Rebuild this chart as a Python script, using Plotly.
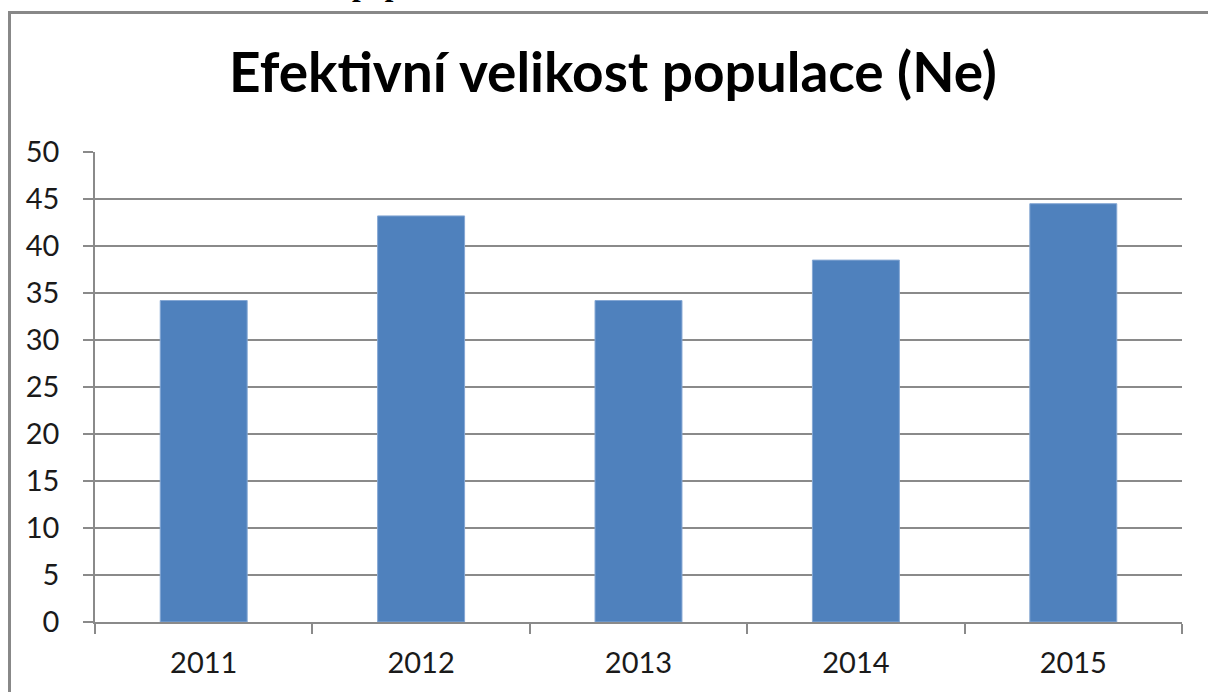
import plotly.graph_objects as go

# --- data ---
years = ['2011', '2012', '2013', '2014', '2015']
ne_values = [34.2, 43.2, 34.2, 38.5, 44.5]
y_ticks = [0, 5, 10, 15, 20, 25, 30, 35, 40, 45, 50]

BAR_COLOR = '#4F81BD'
GRID_COLOR = '#8a8a8a'
TEXT_COLOR = '#1a1a1a'

# plot area in pixels
W, H = 1208, 692
L, R, T, B = 95, 26, 152, 70
pw, ph = W - L - R, H - T - B


def px_x(x):
    return (x - L) / pw


def px_y(y):
    return (H - B - y) / ph


fig = go.Figure()
fig.add_trace(go.Bar(
    x=years, y=ne_values,
    marker=dict(color=BAR_COLOR, line=dict(color='#86a8d4', width=1)),
    showlegend=False,
))

fig.update_layout(
    width=W, height=H,
    margin=dict(l=L, r=R, t=T, b=B, pad=0),
    paper_bgcolor='white', plot_bgcolor='white',
    bargap=0.6,
    font=dict(family='Lato', color=TEXT_COLOR, size=29),
    title=dict(text='Efektivní velikost populace (Ne)',
               font=dict(family='Lato', size=55, weight='bold', color='black'),
               x=613 / W, xanchor='center', xref='container',
               y=1 - 73 / H, yanchor='middle', yref='container'),
)

fig.update_xaxes(
    type='category', tickson='boundaries', ticks='outside', ticklen=10,
    tickcolor=GRID_COLOR, tickwidth=1.5,
    showline=True, linecolor=GRID_COLOR, linewidth=1.5,
    showgrid=False, tickfont=dict(size=29), ticklabelstandoff=14,
)
fig.update_yaxes(
    range=[0, 50], tickvals=y_ticks, ticks='outside', ticklen=10,
    tickcolor=GRID_COLOR, tickwidth=1.5,
    showline=True, linecolor=GRID_COLOR, linewidth=1.5,
    showgrid=True, gridcolor=GRID_COLOR, gridwidth=1.5,
    zeroline=False, ticklabelstandoff=18, tickfont=dict(size=29),
)

# outer frame of the embedded chart (cut by the picture edges)
fig.add_shape(type='rect', xref='paper', yref='paper',
              x0=px_x(9.5), x1=px_x(1260), y0=px_y(760), y1=px_y(12.5),
              line=dict(color='#888888', width=3), fillcolor='rgba(0,0,0,0)',
              layer='below')

# remains of the heading line above the chart (only the descenders show)
fig.add_annotation(text='<b>populace</b>', xref='paper', yref='paper',
                   x=px_x(350), y=px_y(4), xanchor='left', yanchor='bottom',
                   showarrow=False,
                   font=dict(family='Liberation Serif', size=31, color='black'))

fig.write_html('out.html', config={'displayModeBar': False},
               post_script="document.body.style.margin='0';")
